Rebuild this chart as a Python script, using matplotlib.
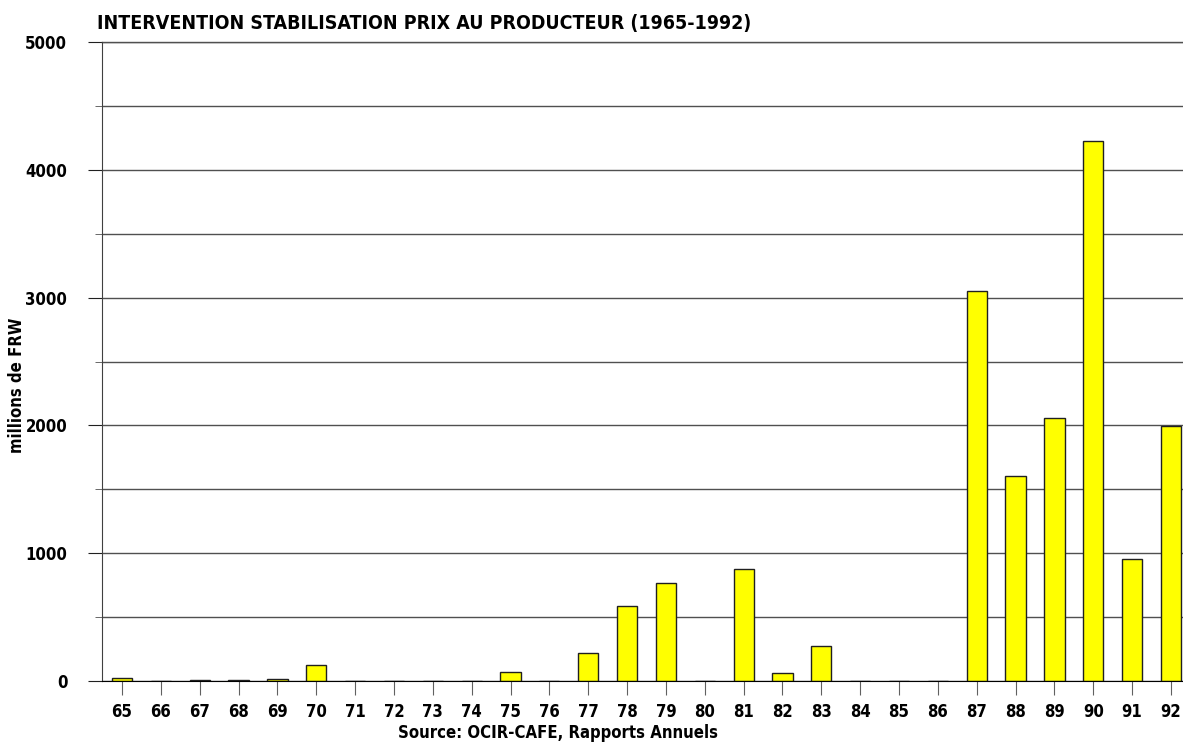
import matplotlib
matplotlib.use("Agg")
import matplotlib.pyplot as plt
from matplotlib.ticker import MultipleLocator

years = ["65", "66", "67", "68", "69", "70", "71", "72", "73", "74", "75", "76", "77", "78",
         "79", "80", "81", "82", "83", "84", "85", "86", "87", "88", "89", "90", "91", "92"]
values = [25, 0, 5, 5, 14, 122, 0, 0, 0, 0, 70, 0, 219, 587,
          767, 0, 876, 63, 274, 0, 0, 0, 3052, 1604, 2058, 4225, 955, 1995]
yticks = [0, 1000, 2000, 3000, 4000, 5000]

fam = ["DejaVu Sans"]
tf = dict(family=fam, fontweight="bold", fontstretch="condensed")

fig = plt.figure(figsize=(11.83, 7.44), dpi=100)
ax = fig.add_axes([102/1183, 63/744, 1 - 102/1183, (681-42)/744])

x = list(range(len(years)))
ax.bar(x, values, width=0.52, color="#FFFF00", edgecolor="#202020", linewidth=1, zorder=3)

ax.set_xlim(-0.515, 27.31)
ax.set_ylim(0, 5000)
ax.yaxis.set_minor_locator(MultipleLocator(500))
ax.set_yticks(yticks)
ax.set_yticklabels([str(v) for v in yticks], fontsize=12, **tf)
ax.set_xticks(x)
ax.set_xticklabels(years, fontsize=12, **tf)
ax.grid(axis="y", which="both", color="#505050", linewidth=1, zorder=0)
ax.tick_params(axis="y", which="major", length=10, color="#202020", pad=15)
ax.tick_params(axis="y", which="minor", length=5, color="#505050")
ax.tick_params(axis="x", length=10, color="#606060", pad=6)

for s in ["top", "right"]:
    ax.spines[s].set_visible(False)
ax.spines["left"].set_color("#404040")
ax.spines["bottom"].set_color("black")
ax.spines["bottom"].set_zorder(4)
ax.axhline(5000, color="#505050", linewidth=1, clip_on=False)

fig.text(17/1183, 1 - 385/744, "millions de FRW", rotation=90, ha="center", va="center",
         fontsize=12, **tf)
fig.text(558/1183, 11/744, "Source: OCIR-CAFE, Rapports Annuels", ha="center", va="center",
         fontsize=12, **tf)
fig.text(97/1183, 1 - 24/744, "INTERVENTION STABILISATION PRIX AU PRODUCTEUR (1965-1992)",
         ha="left", va="center", fontsize=14, **tf)

fig.savefig("out.png", dpi=100)
